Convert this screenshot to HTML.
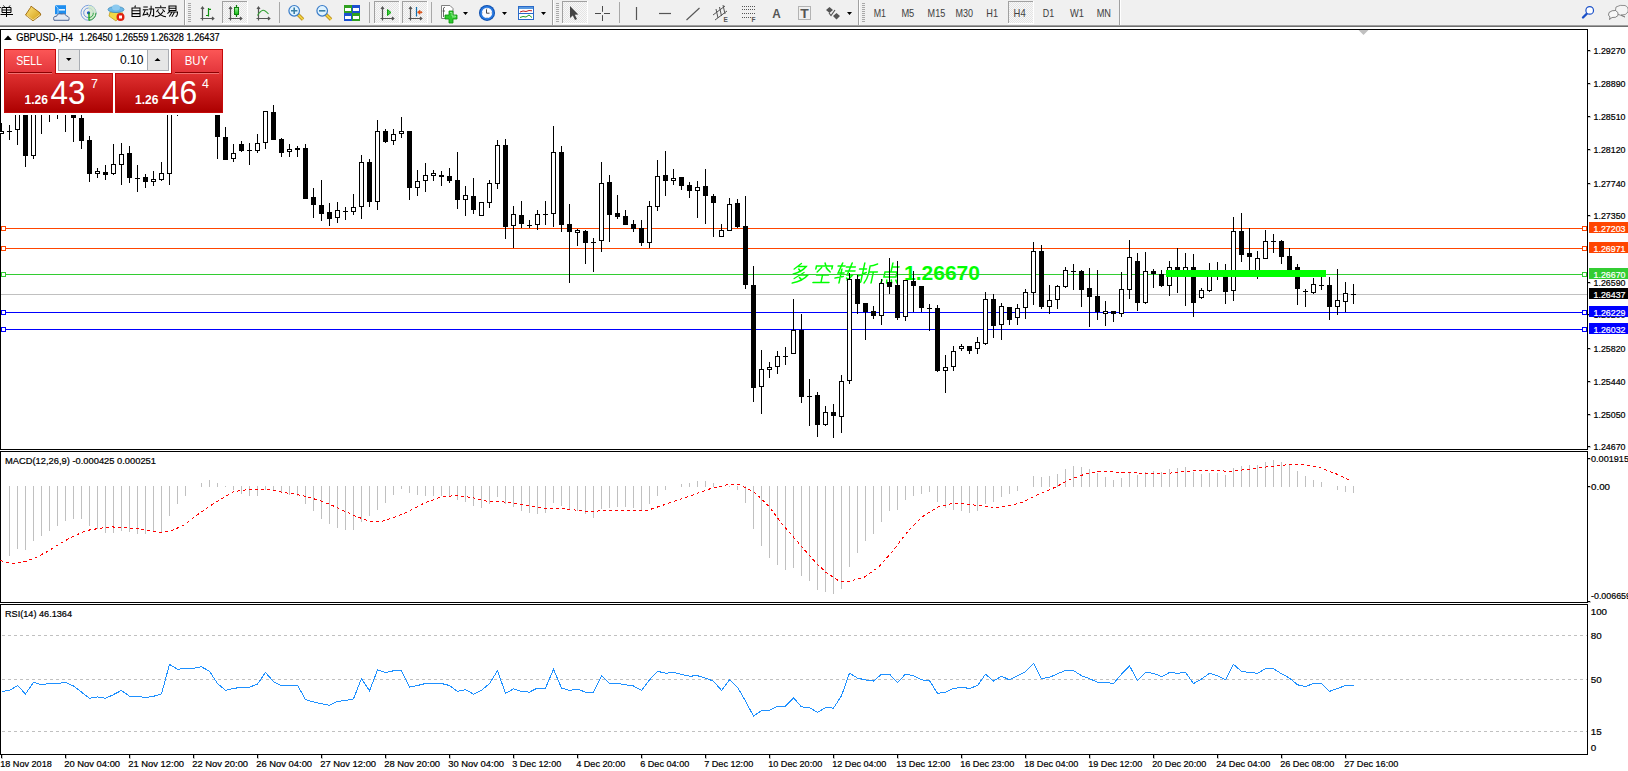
<!DOCTYPE html><html><head><meta charset="utf-8"><style>html,body{margin:0;padding:0;background:#fff;overflow:hidden;width:1628px;height:771px}svg{display:block}text{font-family:"Liberation Sans",sans-serif}.tk text,text.tk{stroke:currentColor}</style></head><body>
<svg width="1628" height="771" viewBox="0 0 1628 771">
<rect x="0" y="0" width="1628" height="25" fill="#f0f0f0"/>
<rect x="0" y="25" width="1628" height="1" fill="#a0a0a0"/><rect x="0" y="26" width="1628" height="1" fill="#6e6e6e"/>
<g id="toolbar"><defs>
<pattern id="chk" width="2" height="2" patternUnits="userSpaceOnUse"><rect width="2" height="2" fill="#f8f8f8"/><rect width="1" height="1" fill="#e4e4e4"/><rect x="1" y="1" width="1" height="1" fill="#e4e4e4"/></pattern>
<linearGradient id="ggold" x1="0" y1="0" x2="1" y2="1"><stop offset="0" stop-color="#ffe680"/><stop offset="1" stop-color="#d09a10"/></linearGradient>
<linearGradient id="ggreen" x1="0" y1="0" x2="0" y2="1"><stop offset="0" stop-color="#9ff09f"/><stop offset="1" stop-color="#10c010"/></linearGradient>
</defs>
<!-- partial char 単 -->
<g stroke="#000" stroke-width="1" fill="none">
<path d="M0 7.5 H0.8 M3.5 5.5 L4.5 6.8 M10 5.5 L9 6.8 M2 7.5 H11 V12.5 H2 Z M2 10 H11 M0.5 14.5 H13 M6.5 7.5 V17"/>
</g>
<!-- gold book -->
<path d="M25.5 15 L30.5 7.5 L31 6.2 L40 12.8 L40.8 15 L33 20.8 Z" fill="url(#ggold)" stroke="#9a6408" stroke-width="0.9" stroke-linejoin="round"/>
<path d="M26.8 15.5 L33 19.8 M33 20 L40 14.5" stroke="#f4e0a0" stroke-width="0.8" fill="none"/>
<!-- cloud doc -->
<rect x="55" y="5.2" width="11" height="9" fill="#1e8ef0"/>
<path d="M55 5.2 L58 8 V14" stroke="#bfe4ff" stroke-width="0.8" fill="none"/>
<rect x="59" y="9" width="6" height="1.6" fill="#e0f2ff"/>
<path d="M54 20.3 Q52.5 16 56.5 16.3 Q57.5 13 61.5 14 Q65 12.5 66.5 16 Q70 16.5 68.8 20.3 Z" fill="#e4e9f2" stroke="#40588a" stroke-width="0.9"/>
<!-- signal -->
<g fill="none" stroke-width="1">
<circle cx="88.5" cy="12.8" r="7.5" stroke="#7aa0e0"/>
<circle cx="88.5" cy="12.8" r="4.8" stroke="#6a98d8"/>
<path d="M88.5 5.3 A7.5 7.5 0 0 1 89 20.3 Z" fill="#cfe8c8" stroke="none" opacity="0.8"/>
<path d="M96 12.8 A7.5 7.5 0 0 1 89 20.3" stroke="#2a9a3a"/>
<path d="M93.3 12.8 A4.8 4.8 0 0 1 89 17.6" stroke="#3aaa4a"/>
</g>
<circle cx="88.5" cy="12.8" r="1.6" fill="#1e50d0"/>
<path d="M89 12.5 V20.5" stroke="#18a018" stroke-width="1.3" fill="none"/>
<!-- auto trading -->
<path d="M109 16 L116 21 L123 13 L110 12 Z" fill="#f0d848" stroke="#c0a020" stroke-width="0.8"/>
<ellipse cx="116" cy="9.5" rx="8" ry="3" fill="#6ab8e8" stroke="#3a88b8" stroke-width="0.8"/>
<ellipse cx="116" cy="7.5" rx="4" ry="3" fill="#8ccaf0"/>
<circle cx="120.5" cy="17" r="4" fill="#e02010"/>
<rect x="119" y="15.5" width="3" height="3" fill="#fff"/>
<!-- 自动交易 -->
<g stroke="#000" stroke-width="1.05" fill="none" transform="translate(130.5,5.5)">
<path d="M5 0 L4.3 1.8 M1.5 2.5 H9.5 V11 H1.5 Z M1.5 5.3 H9.5 M1.5 8.1 H9.5"/>
<g transform="translate(12.3,0)"><path d="M0.5 1.5 H5 M0 4.3 H5.5 M2.5 4.3 L0.3 9.5 L5 8.5 M4 6.8 L5.5 9.8 M6 3.5 H10.8 V10.5 L9 10 M8.3 0.3 V3.5 Q8 9 5.8 11.3"/></g>
<g transform="translate(24.5,0)"><path d="M5.5 0 L6 1.5 M0 2.3 H11 M3.5 3.8 L1.5 6.3 M7.5 3.8 L9.8 6.3 M3 6 Q5.5 10.5 11 11.3 M8 6 Q5.5 10.5 0 11.3"/></g>
<g transform="translate(36.5,0)"><path d="M2 0.5 H9 V5 H2 Z M2 2.8 H9 M3 5 L0.5 8.3 M1.8 6.5 H10.5 Q10.5 11 8.5 11 M4.8 7 L2.3 11 M7.3 7 L4.8 11.3"/></g>
</g>
<!-- separators & grips -->
<g shape-rendering="crispEdges">
<rect x="184" y="0" width="1" height="25" fill="#a0a0a0"/><rect x="185" y="0" width="1" height="25" fill="#fff"/>
<rect x="552" y="0" width="1" height="25" fill="#a0a0a0"/><rect x="553" y="0" width="1" height="25" fill="#fff"/>
<rect x="858" y="0" width="1" height="25" fill="#a0a0a0"/><rect x="859" y="0" width="1" height="25" fill="#fff"/>
<rect x="1119" y="0" width="1" height="25" fill="#a0a0a0"/><rect x="1120" y="0" width="1" height="25" fill="#fff"/>
<rect x="279" y="2" width="1" height="21" fill="#a8a8a8"/>
<rect x="369" y="2" width="1" height="21" fill="#a8a8a8"/>
<rect x="431" y="2" width="1" height="21" fill="#a8a8a8"/>
<rect x="619" y="2" width="1" height="21" fill="#a8a8a8"/>
</g>
<g fill="#a8a8a8" shape-rendering="crispEdges">
<rect x="188" y="3" width="3" height="1"/><rect x="188" y="5" width="3" height="1"/><rect x="188" y="7" width="3" height="1"/><rect x="188" y="9" width="3" height="1"/><rect x="188" y="11" width="3" height="1"/><rect x="188" y="13" width="3" height="1"/><rect x="188" y="15" width="3" height="1"/><rect x="188" y="17" width="3" height="1"/><rect x="188" y="19" width="3" height="1"/><rect x="188" y="21" width="3" height="1"/>
<rect x="556" y="3" width="3" height="1"/><rect x="556" y="5" width="3" height="1"/><rect x="556" y="7" width="3" height="1"/><rect x="556" y="9" width="3" height="1"/><rect x="556" y="11" width="3" height="1"/><rect x="556" y="13" width="3" height="1"/><rect x="556" y="15" width="3" height="1"/><rect x="556" y="17" width="3" height="1"/><rect x="556" y="19" width="3" height="1"/><rect x="556" y="21" width="3" height="1"/>
<rect x="862" y="3" width="3" height="1"/><rect x="862" y="5" width="3" height="1"/><rect x="862" y="7" width="3" height="1"/><rect x="862" y="9" width="3" height="1"/><rect x="862" y="11" width="3" height="1"/><rect x="862" y="13" width="3" height="1"/><rect x="862" y="15" width="3" height="1"/><rect x="862" y="17" width="3" height="1"/><rect x="862" y="19" width="3" height="1"/><rect x="862" y="21" width="3" height="1"/>
</g>
<!-- selected buttons -->
<g shape-rendering="crispEdges">
<rect x="222" y="1" width="25" height="22" fill="url(#chk)"/><rect x="222" y="1" width="25" height="1" fill="#a0a0a0"/><rect x="222" y="1" width="1" height="22" fill="#a0a0a0"/><rect x="222" y="23" width="26" height="1" fill="#fff"/><rect x="247" y="1" width="1" height="23" fill="#fff"/>
<rect x="374" y="1" width="25" height="22" fill="url(#chk)"/><rect x="374" y="1" width="25" height="1" fill="#a0a0a0"/><rect x="374" y="1" width="1" height="22" fill="#a0a0a0"/><rect x="374" y="23" width="26" height="1" fill="#fff"/><rect x="399" y="1" width="1" height="23" fill="#fff"/>
<rect x="402" y="1" width="25" height="22" fill="url(#chk)"/><rect x="402" y="1" width="25" height="1" fill="#a0a0a0"/><rect x="402" y="1" width="1" height="22" fill="#a0a0a0"/><rect x="402" y="23" width="26" height="1" fill="#fff"/><rect x="427" y="1" width="1" height="23" fill="#fff"/>
<rect x="562" y="1" width="25" height="22" fill="url(#chk)"/><rect x="562" y="1" width="25" height="1" fill="#a0a0a0"/><rect x="562" y="1" width="1" height="22" fill="#a0a0a0"/><rect x="562" y="23" width="26" height="1" fill="#fff"/><rect x="587" y="1" width="1" height="23" fill="#fff"/>
<rect x="1008" y="1" width="25" height="22" fill="url(#chk)"/><rect x="1008" y="1" width="25" height="1" fill="#a0a0a0"/><rect x="1008" y="1" width="1" height="22" fill="#a0a0a0"/><rect x="1008" y="23" width="26" height="1" fill="#fff"/><rect x="1033" y="1" width="1" height="23" fill="#fff"/>
</g>
<!-- axes icons -->
<g stroke="#555" stroke-width="1.2" fill="none">
<path d="M202.5 7.5 V20.5 M200.5 18.5 H213.5 M201 9 L202.5 7 L204 9 M212 17 L213.8 18.5 L212 20"/>
<path d="M230.5 7.5 V20.5 M228.5 18.5 H241.5 M229 9 L230.5 7 L232 9 M240 17 L241.8 18.5 L240 20"/>
<path d="M258.5 7.5 V20.5 M256.5 18.5 H269.5 M257 9 L258.5 7 L260 9 M268 17 L269.8 18.5 L268 20"/>
<path d="M382.5 7.5 V20.5 M380.5 18.5 H393.5 M381 9 L382.5 7 L384 9 M392 17 L393.8 18.5 L392 20"/>
<path d="M410.5 7.5 V20.5 M408.5 18.5 H421.5 M409 9 L410.5 7 L412 9 M420 17 L421.8 18.5 L420 20"/>
</g>
<path d="M208.5 8 V16.5 M208.5 9.3 H211 M206 15.5 H208.5" stroke="#109010" stroke-width="1.2" fill="none"/>
<rect x="234.5" y="7.5" width="4" height="7" fill="url(#ggreen)" stroke="#108010"/><path d="M236.5 5 V7.5 M236.5 14.5 V17" stroke="#108010" stroke-width="1.2"/>
<path d="M257.5 15.5 Q260 11 263 10.2 Q265 10 268.5 14" stroke="#30a030" stroke-width="1.1" fill="none"/>
<path d="M387.5 9.5 L391 12.5 L387.5 15.5 Z" fill="#40d040" stroke="#10a010"/>
<path d="M416.5 7 V16.5" stroke="#1070b0" stroke-width="1.2"/>
<path d="M417.5 12.3 L420 10.3 V11.8 H422 V12.8 H420 V14.3 Z" fill="#f05010" stroke="#d04000" stroke-width="0.6"/>
<!-- zoom icons -->
<g>
<path d="M297.5 14 L303 19.5" stroke="#b08010" stroke-width="3.4"/><path d="M297.5 14 L303 19.5" stroke="#f0d040" stroke-width="2"/>
<circle cx="294.2" cy="10.8" r="5.3" fill="#dff3ff" stroke="#3a7cc8" stroke-width="1.2"/>
<path d="M291 10.8 H297.4 M294.2 7.6 V14" stroke="#3a80a8" stroke-width="1.6"/>
<path d="M325.5 14 L331 19.5" stroke="#b08010" stroke-width="3.4"/><path d="M325.5 14 L331 19.5" stroke="#f0d040" stroke-width="2"/>
<circle cx="322.2" cy="10.8" r="5.3" fill="#dff3ff" stroke="#3a7cc8" stroke-width="1.2"/>
<path d="M319 10.8 H325.4" stroke="#3a80a8" stroke-width="1.6"/>
</g>
<!-- tile -->
<g shape-rendering="crispEdges">
<rect x="344" y="5" width="8" height="8" fill="#30a020"/><rect x="352" y="5" width="8" height="8" fill="#1c50d0"/>
<rect x="344" y="13" width="8" height="8" fill="#1c50d0"/><rect x="352" y="13" width="8" height="8" fill="#30a020"/>
<rect x="345" y="8" width="6" height="3" fill="#fff"/><rect x="353" y="8" width="6" height="3" fill="#fff"/>
<rect x="345" y="16" width="6" height="3" fill="#fff"/><rect x="353" y="16" width="6" height="3" fill="#fff"/>
</g>
<!-- new doc -->
<path d="M441.5 5.5 H450 L453 8.5 V18.5 H441.5 Z" fill="#fff" stroke="#808080"/>
<path d="M443.5 8 Q444 7 445 7.5 M443.5 8 V17 M442.5 11 H445" stroke="#444" stroke-width="0.8" fill="none"/>
<path d="M449 11 H453 V15 H457 V19 H453 V23 H449 V19 H445 V15 H449 Z" fill="#2ec82e" stroke="#0a900a" stroke-width="0.8"/>
<path d="M450 12.5 H452 V16 H455.5 V17 H452" stroke="#9af09a" stroke-width="0.8" fill="none"/>
<!-- clock -->
<circle cx="487" cy="12.9" r="8" fill="#0d4fb0"/><circle cx="487" cy="12.9" r="7" fill="#2a7ae0"/><circle cx="487" cy="12.9" r="5.2" fill="#fbfbff"/>
<path d="M486.5 9.3 V13.2 H489.5" stroke="#333" stroke-width="0.9" fill="none"/>
<path d="M487 8 V8.8 M487 17 V17.8 M482.2 12.9 H483 M491 12.9 H491.8" stroke="#777" stroke-width="0.6"/>
<!-- templates -->
<rect x="518.5" y="6.5" width="15" height="13" fill="#fff" stroke="#2a6ac8"/>
<rect x="519" y="7" width="14" height="2" fill="#5a9ae0"/><rect x="519" y="13" width="14" height="1" fill="#2a6ac8"/>
<path d="M520 12 L523 11 L526 11.5 L529 10.5 L532 10.8" stroke="#c02020" stroke-width="1" fill="none"/>
<path d="M520 17.5 L523 16.5 L526 17 L529 15 L532 17.5" stroke="#20a020" stroke-width="1" fill="none"/>
<!-- dropdowns -->
<path d="M463 12 H468 L465.5 15 Z M502 12 H507 L504.5 15 Z M541 12 H546 L543.5 15 Z M847 12 H852 L849.5 15 Z" fill="#000"/>
<!-- cursor & drawing -->
<path d="M570 6 V18 L572.8 15.5 L575 20 L577 19 L574.8 14.8 L578.3 14.5 Z" fill="#444"/>
<path d="M595 13.5 H601 M604 13.5 H610 M602.5 6 V11.8 M602.5 15.2 V21" stroke="#4a4a4a" stroke-width="1"/>
<path d="M636.5 7 V20" stroke="#555" stroke-width="1.2"/>
<path d="M659 13.5 H671" stroke="#555" stroke-width="1.2"/>
<path d="M686.5 20 L699.5 8" stroke="#555" stroke-width="1.1"/>
<path d="M713 15 L725 6 M715 20 L727 11 M716 9 L718 18 M719.5 7 L721.5 16 M723 5 L725 14" stroke="#555" stroke-width="1" fill="none"/>
<text x="723.5" y="21.8" font-size="6.5" font-weight="bold" fill="#555">E</text>
<g fill="#555" shape-rendering="crispEdges">
<path d="M742 6.5 H755 M742 9.8 H755 M742 13.3 H755 M742 17.7 H751" stroke="#555" stroke-width="1" stroke-dasharray="1,1" fill="none"/>
</g>
<text x="751.5" y="22" font-size="6.5" font-weight="bold" fill="#555">F</text>
<text x="772.3" y="18.3" font-size="13" font-weight="bold" fill="#555" textLength="8.5" lengthAdjust="spacingAndGlyphs">A</text>
<rect x="798.5" y="6.5" width="12" height="13" fill="none" stroke="#777" stroke-dasharray="1,1"/>
<text x="800.3" y="17.8" font-size="12" font-weight="bold" fill="#555" textLength="8.5" lengthAdjust="spacingAndGlyphs">T</text>
<path d="M826 10 L829.5 7 L833 10 L829.5 13 Z M833 16 L836.5 13 L840 16 L836.5 19.5 Z" fill="#555"/>
<path d="M829 13 L831 15.5 L835 10" stroke="#555" stroke-width="1.2" fill="none"/>
<!-- timeframes -->
<g font-size="10.5" fill="#404040">
<text x="873.7" y="17" textLength="12.3" lengthAdjust="spacingAndGlyphs">M1</text>
<text x="901.4" y="17" textLength="12.9" lengthAdjust="spacingAndGlyphs">M5</text>
<text x="927.6" y="17" textLength="17.6" lengthAdjust="spacingAndGlyphs">M15</text>
<text x="955.6" y="17" textLength="17.5" lengthAdjust="spacingAndGlyphs">M30</text>
<text x="986.3" y="17" textLength="11.7" lengthAdjust="spacingAndGlyphs">H1</text>
<text x="1013.6" y="17" textLength="12.1" lengthAdjust="spacingAndGlyphs">H4</text>
<text x="1042.8" y="17" textLength="11.4" lengthAdjust="spacingAndGlyphs">D1</text>
<text x="1070" y="17" textLength="14" lengthAdjust="spacingAndGlyphs">W1</text>
<text x="1096.7" y="17" textLength="14.3" lengthAdjust="spacingAndGlyphs">MN</text>
</g>
<!-- search & chat -->
<path d="M1583 17.5 L1587 13.5" stroke="#1a50c8" stroke-width="2.4" stroke-linecap="round"/>
<circle cx="1589.7" cy="10.4" r="3.8" fill="#fff" stroke="#1a50c8" stroke-width="1.2"/>
<path d="M1616 7 Q1620 4.5 1625 5.5 Q1629 7 1628 12 Q1626 15.5 1621 15 L1625 17 L1620 15 Q1615 14 1615.5 10 Z" fill="#f4f4f4" stroke="#777" stroke-width="0.8"/>
<path d="M1609 12.5 Q1612 10 1615.5 10.5 Q1619 12 1618 15.5 Q1616 18 1612 17.5 L1609.5 19.5 L1610 17 Q1607.5 15.5 1609 12.5 Z" fill="#f8f8f8" stroke="#666" stroke-width="0.8"/>
</g>
<g shape-rendering="crispEdges">
<rect x="0" y="29" width="1588" height="1" fill="#000"/>
<rect x="0" y="29" width="1" height="421" fill="#000"/>
<rect x="0" y="449" width="1588" height="1" fill="#000"/>
<rect x="1587" y="29" width="1" height="421" fill="#000"/>
<rect x="0" y="451" width="1588" height="1" fill="#000"/>
<rect x="0" y="451" width="1" height="152" fill="#000"/>
<rect x="0" y="602" width="1588" height="1" fill="#000"/>
<rect x="1587" y="451" width="1" height="152" fill="#000"/>
<rect x="0" y="604" width="1588" height="1" fill="#000"/>
<rect x="0" y="604" width="1" height="151" fill="#000"/>
<rect x="0" y="754" width="1588" height="1" fill="#000"/>
<rect x="1587" y="604" width="1" height="151" fill="#000"/>
</g>
<g id="greentext"><g stroke="#00ff00" stroke-width="1.5" fill="none" stroke-linecap="round">
<g transform="translate(792.5,263) skewX(-12)"><path d="M9 0.5 L3 6 M6 3.5 H14.5 Q11 9 3 11 M7.5 6 L10 8.5 M13.5 9.5 L5 15.5 M9 12 H18 Q14 18 4 20 M10 14.5 L13 17"/></g>
<g transform="translate(815.1,263) skewX(-12)"><path d="M10 0 L11 2 M2 6 V3 H18 V6 M7.5 4.5 L4 9 M12 4.5 Q14 7 17 9 M4 12 H16 M10 12 V19 M2 19.5 H18"/></g>
<g transform="translate(837.7,263) skewX(-12)"><path d="M1 3 H8 M5 0 L2.5 10 H8.5 M5.5 6 V20 M0.5 15 L8.5 13.5 M9.5 4 H18.5 M14.5 0 L12 12 H17.5 Q15 16 13 17 M9.5 8 H19 M12 15 L16 19"/></g>
<g transform="translate(860.3,263) skewX(-12)"><path d="M0.5 6 H7.5 M4.5 0 V19 Q4 20 2.5 19 M0.5 13 L8 9.5 M17.5 1 Q13 3 10.5 3 V11 Q10 17 8 20 M10.5 9 H19 M15 9 V20"/></g>
<g transform="translate(882.9,263) skewX(-12)"><path d="M10 0 V9 M10 4 H17 M4 9 H16 V14 H4 Z M3 17 L2 20 M7.5 17 L8 20 M12 17 L13 20 M16.5 17 L18.5 20"/></g>
</g>
<text x="904" y="279.5" font-size="20.5" font-weight="bold" fill="#00ff00" textLength="76" lengthAdjust="spacingAndGlyphs">1.26670</text>
</g>
<g shape-rendering="crispEdges">
<rect x="1" y="228" width="1586" height="1" fill="#ff4500"/>
<rect x="1.5" y="226.5" width="4" height="4" fill="#fff" stroke="#ff4500" stroke-width="1"/>
<rect x="1582.5" y="226.5" width="4" height="4" fill="#fff" stroke="#ff4500" stroke-width="1"/>
<rect x="1" y="248" width="1586" height="1" fill="#ff4500"/>
<rect x="1.5" y="246.5" width="4" height="4" fill="#fff" stroke="#ff4500" stroke-width="1"/>
<rect x="1582.5" y="246.5" width="4" height="4" fill="#fff" stroke="#ff4500" stroke-width="1"/>
<rect x="1" y="274" width="1586" height="1" fill="#32cd32"/>
<rect x="1.5" y="272.5" width="4" height="4" fill="#fff" stroke="#32cd32" stroke-width="1"/>
<rect x="1582.5" y="272.5" width="4" height="4" fill="#fff" stroke="#32cd32" stroke-width="1"/>
<rect x="1" y="294" width="1586" height="1" fill="#c0c0c0"/>
<rect x="1" y="312" width="1586" height="1" fill="#0000ff"/>
<rect x="1.5" y="310.5" width="4" height="4" fill="#fff" stroke="#0000ff" stroke-width="1"/>
<rect x="1582.5" y="310.5" width="4" height="4" fill="#fff" stroke="#0000ff" stroke-width="1"/>
<rect x="1" y="329" width="1586" height="1" fill="#0000ff"/>
<rect x="1.5" y="327.5" width="4" height="4" fill="#fff" stroke="#0000ff" stroke-width="1"/>
<rect x="1582.5" y="327.5" width="4" height="4" fill="#fff" stroke="#0000ff" stroke-width="1"/>
</g>
<g shape-rendering="crispEdges" fill="#000">
<rect x="1" y="123" width="1" height="11"/>
<rect x="-1" y="131" width="5" height="3"/><rect x="0" y="132" width="3" height="1" fill="#fff"/>
<rect x="9" y="125" width="1" height="15"/>
<rect x="7" y="131" width="5" height="1"/>
<rect x="17" y="100" width="1" height="45"/>
<rect x="15" y="100" width="5" height="30"/><rect x="16" y="101" width="3" height="28" fill="#fff"/>
<rect x="25" y="100" width="1" height="67"/>
<rect x="23" y="100" width="5" height="56"/>
<rect x="33" y="100" width="1" height="59"/>
<rect x="31" y="100" width="5" height="56"/><rect x="32" y="101" width="3" height="54" fill="#fff"/>
<rect x="41" y="90" width="1" height="44"/>
<rect x="39" y="90" width="5" height="20"/>
<rect x="49" y="90" width="1" height="32"/>
<rect x="47" y="90" width="5" height="18"/>
<rect x="57" y="90" width="1" height="29"/>
<rect x="55" y="90" width="5" height="18"/>
<rect x="65" y="90" width="1" height="42"/>
<rect x="63" y="90" width="5" height="18"/>
<rect x="73" y="90" width="1" height="52"/>
<rect x="71" y="100" width="5" height="18"/>
<rect x="81" y="115" width="1" height="34"/>
<rect x="79" y="118" width="5" height="23"/>
<rect x="89" y="136" width="1" height="46"/>
<rect x="87" y="140" width="5" height="34"/>
<rect x="97" y="168" width="1" height="10"/>
<rect x="95" y="171" width="5" height="3"/><rect x="96" y="172" width="3" height="1" fill="#fff"/>
<rect x="105" y="165" width="1" height="15"/>
<rect x="103" y="172" width="5" height="3"/>
<rect x="113" y="144" width="1" height="31"/>
<rect x="111" y="164" width="5" height="10"/><rect x="112" y="165" width="3" height="8" fill="#fff"/>
<rect x="121" y="143" width="1" height="42"/>
<rect x="119" y="154" width="5" height="11"/><rect x="120" y="155" width="3" height="9" fill="#fff"/>
<rect x="129" y="146" width="1" height="37"/>
<rect x="127" y="153" width="5" height="25"/>
<rect x="137" y="165" width="1" height="27"/>
<rect x="135" y="178" width="5" height="1"/>
<rect x="145" y="174" width="1" height="14"/>
<rect x="143" y="177" width="5" height="5"/>
<rect x="153" y="171" width="1" height="15"/>
<rect x="151" y="179" width="5" height="3"/><rect x="152" y="180" width="3" height="1" fill="#fff"/>
<rect x="161" y="162" width="1" height="19"/>
<rect x="159" y="173" width="5" height="7"/><rect x="160" y="174" width="3" height="5" fill="#fff"/>
<rect x="169" y="100" width="1" height="85"/>
<rect x="167" y="100" width="5" height="74"/><rect x="168" y="101" width="3" height="72" fill="#fff"/>
<rect x="177" y="90" width="1" height="26"/>
<rect x="175" y="90" width="5" height="18"/>
<rect x="217" y="100" width="1" height="59"/>
<rect x="215" y="100" width="5" height="37"/>
<rect x="225" y="127" width="1" height="33"/>
<rect x="223" y="137" width="5" height="23"/>
<rect x="233" y="144" width="1" height="18"/>
<rect x="231" y="153" width="5" height="6"/><rect x="232" y="154" width="3" height="4" fill="#fff"/>
<rect x="241" y="141" width="1" height="11"/>
<rect x="239" y="144" width="5" height="7"/>
<rect x="249" y="143" width="1" height="22"/>
<rect x="247" y="150" width="5" height="1"/>
<rect x="257" y="134" width="1" height="19"/>
<rect x="255" y="143" width="5" height="8"/><rect x="256" y="144" width="3" height="6" fill="#fff"/>
<rect x="265" y="111" width="1" height="38"/>
<rect x="263" y="111" width="5" height="32"/><rect x="264" y="112" width="3" height="30" fill="#fff"/>
<rect x="273" y="105" width="1" height="35"/>
<rect x="271" y="112" width="5" height="28"/>
<rect x="281" y="138" width="1" height="19"/>
<rect x="279" y="139" width="5" height="14"/>
<rect x="289" y="144" width="1" height="13"/>
<rect x="287" y="149" width="5" height="3"/><rect x="288" y="150" width="3" height="1" fill="#fff"/>
<rect x="297" y="146" width="1" height="11"/>
<rect x="295" y="148" width="5" height="2"/>
<rect x="305" y="144" width="1" height="55"/>
<rect x="303" y="148" width="5" height="51"/>
<rect x="313" y="188" width="1" height="30"/>
<rect x="311" y="197" width="5" height="8"/>
<rect x="321" y="180" width="1" height="41"/>
<rect x="319" y="205" width="5" height="9"/>
<rect x="329" y="203" width="1" height="23"/>
<rect x="327" y="212" width="5" height="7"/>
<rect x="337" y="202" width="1" height="21"/>
<rect x="335" y="210" width="5" height="8"/><rect x="336" y="211" width="3" height="6" fill="#fff"/>
<rect x="345" y="207" width="1" height="13"/>
<rect x="343" y="211" width="5" height="1"/>
<rect x="353" y="194" width="1" height="21"/>
<rect x="351" y="207" width="5" height="5"/><rect x="352" y="208" width="3" height="3" fill="#fff"/>
<rect x="361" y="155" width="1" height="64"/>
<rect x="359" y="162" width="5" height="45"/><rect x="360" y="163" width="3" height="43" fill="#fff"/>
<rect x="369" y="159" width="1" height="48"/>
<rect x="367" y="162" width="5" height="40"/>
<rect x="377" y="120" width="1" height="90"/>
<rect x="375" y="131" width="5" height="71"/><rect x="376" y="132" width="3" height="69" fill="#fff"/>
<rect x="385" y="129" width="1" height="14"/>
<rect x="383" y="131" width="5" height="11"/>
<rect x="393" y="129" width="1" height="16"/>
<rect x="391" y="134" width="5" height="7"/><rect x="392" y="135" width="3" height="5" fill="#fff"/>
<rect x="401" y="117" width="1" height="21"/>
<rect x="399" y="131" width="5" height="3"/><rect x="400" y="132" width="3" height="1" fill="#fff"/>
<rect x="409" y="131" width="1" height="69"/>
<rect x="407" y="131" width="5" height="57"/>
<rect x="417" y="170" width="1" height="26"/>
<rect x="415" y="181" width="5" height="7"/><rect x="416" y="182" width="3" height="5" fill="#fff"/>
<rect x="425" y="163" width="1" height="29"/>
<rect x="423" y="175" width="5" height="6"/><rect x="424" y="176" width="3" height="4" fill="#fff"/>
<rect x="433" y="170" width="1" height="11"/>
<rect x="431" y="173" width="5" height="3"/><rect x="432" y="174" width="3" height="1" fill="#fff"/>
<rect x="441" y="171" width="1" height="15"/>
<rect x="439" y="175" width="5" height="2"/>
<rect x="449" y="168" width="1" height="15"/>
<rect x="447" y="176" width="5" height="5"/>
<rect x="457" y="152" width="1" height="57"/>
<rect x="455" y="180" width="5" height="20"/>
<rect x="465" y="186" width="1" height="30"/>
<rect x="463" y="195" width="5" height="5"/><rect x="464" y="196" width="3" height="3" fill="#fff"/>
<rect x="473" y="178" width="1" height="36"/>
<rect x="471" y="196" width="5" height="14"/>
<rect x="481" y="202" width="1" height="14"/>
<rect x="479" y="202" width="5" height="14"/><rect x="480" y="203" width="3" height="12" fill="#fff"/>
<rect x="489" y="180" width="1" height="28"/>
<rect x="487" y="183" width="5" height="20"/><rect x="488" y="184" width="3" height="18" fill="#fff"/>
<rect x="497" y="140" width="1" height="49"/>
<rect x="495" y="145" width="5" height="39"/><rect x="496" y="146" width="3" height="37" fill="#fff"/>
<rect x="505" y="139" width="1" height="100"/>
<rect x="503" y="145" width="5" height="82"/>
<rect x="513" y="206" width="1" height="42"/>
<rect x="511" y="214" width="5" height="12"/><rect x="512" y="215" width="3" height="10" fill="#fff"/>
<rect x="521" y="201" width="1" height="27"/>
<rect x="519" y="215" width="5" height="9"/>
<rect x="529" y="220" width="1" height="8"/>
<rect x="527" y="225" width="5" height="1"/>
<rect x="537" y="210" width="1" height="20"/>
<rect x="535" y="214" width="5" height="11"/><rect x="536" y="215" width="3" height="9" fill="#fff"/>
<rect x="545" y="201" width="1" height="24"/>
<rect x="543" y="214" width="5" height="1"/>
<rect x="553" y="126" width="1" height="101"/>
<rect x="551" y="152" width="5" height="62"/><rect x="552" y="153" width="3" height="60" fill="#fff"/>
<rect x="561" y="146" width="1" height="86"/>
<rect x="559" y="152" width="5" height="73"/>
<rect x="569" y="204" width="1" height="79"/>
<rect x="567" y="224" width="5" height="8"/>
<rect x="577" y="229" width="1" height="17"/>
<rect x="575" y="230" width="5" height="3"/><rect x="576" y="231" width="3" height="1" fill="#fff"/>
<rect x="585" y="230" width="1" height="34"/>
<rect x="583" y="231" width="5" height="12"/>
<rect x="593" y="238" width="1" height="34"/>
<rect x="591" y="242" width="5" height="1"/>
<rect x="601" y="162" width="1" height="90"/>
<rect x="599" y="183" width="5" height="58"/><rect x="600" y="184" width="3" height="56" fill="#fff"/>
<rect x="609" y="175" width="1" height="67"/>
<rect x="607" y="182" width="5" height="33"/>
<rect x="617" y="195" width="1" height="24"/>
<rect x="615" y="213" width="5" height="4"/>
<rect x="625" y="210" width="1" height="15"/>
<rect x="623" y="216" width="5" height="9"/>
<rect x="633" y="220" width="1" height="12"/>
<rect x="631" y="224" width="5" height="5"/>
<rect x="641" y="220" width="1" height="26"/>
<rect x="639" y="228" width="5" height="15"/>
<rect x="649" y="201" width="1" height="47"/>
<rect x="647" y="206" width="5" height="37"/><rect x="648" y="207" width="3" height="35" fill="#fff"/>
<rect x="657" y="160" width="1" height="51"/>
<rect x="655" y="176" width="5" height="31"/><rect x="656" y="177" width="3" height="29" fill="#fff"/>
<rect x="665" y="151" width="1" height="45"/>
<rect x="663" y="175" width="5" height="6"/>
<rect x="673" y="169" width="1" height="16"/>
<rect x="671" y="178" width="5" height="3"/><rect x="672" y="179" width="3" height="1" fill="#fff"/>
<rect x="681" y="177" width="1" height="13"/>
<rect x="679" y="177" width="5" height="9"/>
<rect x="689" y="182" width="1" height="16"/>
<rect x="687" y="185" width="5" height="6"/>
<rect x="697" y="181" width="1" height="37"/>
<rect x="695" y="187" width="5" height="4"/><rect x="696" y="188" width="3" height="2" fill="#fff"/>
<rect x="705" y="169" width="1" height="55"/>
<rect x="703" y="186" width="5" height="10"/>
<rect x="713" y="194" width="1" height="43"/>
<rect x="711" y="196" width="5" height="7"/>
<rect x="721" y="224" width="1" height="13"/>
<rect x="719" y="230" width="5" height="7"/><rect x="720" y="231" width="3" height="5" fill="#fff"/>
<rect x="729" y="198" width="1" height="33"/>
<rect x="727" y="204" width="5" height="27"/><rect x="728" y="205" width="3" height="25" fill="#fff"/>
<rect x="737" y="199" width="1" height="29"/>
<rect x="735" y="203" width="5" height="24"/>
<rect x="745" y="196" width="1" height="93"/>
<rect x="743" y="226" width="5" height="59"/>
<rect x="753" y="266" width="1" height="136"/>
<rect x="751" y="285" width="5" height="103"/>
<rect x="761" y="350" width="1" height="64"/>
<rect x="759" y="369" width="5" height="18"/><rect x="760" y="370" width="3" height="16" fill="#fff"/>
<rect x="769" y="362" width="1" height="16"/>
<rect x="767" y="367" width="5" height="3"/><rect x="768" y="368" width="3" height="1" fill="#fff"/>
<rect x="777" y="351" width="1" height="23"/>
<rect x="775" y="356" width="5" height="11"/><rect x="776" y="357" width="3" height="9" fill="#fff"/>
<rect x="785" y="347" width="1" height="18"/>
<rect x="783" y="356" width="5" height="1"/>
<rect x="793" y="299" width="1" height="55"/>
<rect x="791" y="330" width="5" height="24"/><rect x="792" y="331" width="3" height="22" fill="#fff"/>
<rect x="801" y="314" width="1" height="89"/>
<rect x="799" y="330" width="5" height="67"/>
<rect x="809" y="379" width="1" height="47"/>
<rect x="807" y="396" width="5" height="1"/>
<rect x="817" y="392" width="1" height="45"/>
<rect x="815" y="395" width="5" height="30"/>
<rect x="825" y="406" width="1" height="20"/>
<rect x="823" y="412" width="5" height="13"/><rect x="824" y="413" width="3" height="11" fill="#fff"/>
<rect x="833" y="404" width="1" height="34"/>
<rect x="831" y="412" width="5" height="4"/>
<rect x="841" y="375" width="1" height="58"/>
<rect x="839" y="381" width="5" height="36"/><rect x="840" y="382" width="3" height="34" fill="#fff"/>
<rect x="849" y="273" width="1" height="111"/>
<rect x="847" y="279" width="5" height="102"/><rect x="848" y="280" width="3" height="100" fill="#fff"/>
<rect x="857" y="275" width="1" height="39"/>
<rect x="855" y="279" width="5" height="25"/>
<rect x="865" y="303" width="1" height="37"/>
<rect x="863" y="303" width="5" height="9"/>
<rect x="873" y="306" width="1" height="13"/>
<rect x="871" y="311" width="5" height="5"/>
<rect x="881" y="279" width="1" height="46"/>
<rect x="879" y="283" width="5" height="33"/><rect x="880" y="284" width="3" height="31" fill="#fff"/>
<rect x="889" y="258" width="1" height="36"/>
<rect x="887" y="282" width="5" height="5"/>
<rect x="897" y="261" width="1" height="59"/>
<rect x="895" y="285" width="5" height="33"/>
<rect x="905" y="280" width="1" height="41"/>
<rect x="903" y="280" width="5" height="37"/><rect x="904" y="281" width="3" height="35" fill="#fff"/>
<rect x="913" y="271" width="1" height="41"/>
<rect x="911" y="281" width="5" height="5"/>
<rect x="921" y="286" width="1" height="26"/>
<rect x="919" y="286" width="5" height="22"/>
<rect x="929" y="304" width="1" height="27"/>
<rect x="927" y="308" width="5" height="1"/>
<rect x="937" y="305" width="1" height="67"/>
<rect x="935" y="308" width="5" height="63"/>
<rect x="945" y="355" width="1" height="38"/>
<rect x="943" y="367" width="5" height="4"/><rect x="944" y="368" width="3" height="2" fill="#fff"/>
<rect x="953" y="346" width="1" height="25"/>
<rect x="951" y="351" width="5" height="16"/><rect x="952" y="352" width="3" height="14" fill="#fff"/>
<rect x="961" y="344" width="1" height="7"/>
<rect x="959" y="346" width="5" height="3"/><rect x="960" y="347" width="3" height="1" fill="#fff"/>
<rect x="969" y="346" width="1" height="8"/>
<rect x="967" y="346" width="5" height="5"/>
<rect x="977" y="337" width="1" height="17"/>
<rect x="975" y="342" width="5" height="7"/><rect x="976" y="343" width="3" height="5" fill="#fff"/>
<rect x="985" y="292" width="1" height="53"/>
<rect x="983" y="299" width="5" height="45"/><rect x="984" y="300" width="3" height="43" fill="#fff"/>
<rect x="993" y="294" width="1" height="44"/>
<rect x="991" y="299" width="5" height="27"/>
<rect x="1001" y="303" width="1" height="37"/>
<rect x="999" y="306" width="5" height="19"/><rect x="1000" y="307" width="3" height="17" fill="#fff"/>
<rect x="1009" y="307" width="1" height="18"/>
<rect x="1007" y="307" width="5" height="13"/>
<rect x="1017" y="304" width="1" height="21"/>
<rect x="1015" y="308" width="5" height="10"/><rect x="1016" y="309" width="3" height="8" fill="#fff"/>
<rect x="1025" y="289" width="1" height="30"/>
<rect x="1023" y="292" width="5" height="16"/><rect x="1024" y="293" width="3" height="14" fill="#fff"/>
<rect x="1033" y="242" width="1" height="63"/>
<rect x="1031" y="251" width="5" height="42"/><rect x="1032" y="252" width="3" height="40" fill="#fff"/>
<rect x="1041" y="245" width="1" height="64"/>
<rect x="1039" y="251" width="5" height="56"/>
<rect x="1049" y="285" width="1" height="29"/>
<rect x="1047" y="300" width="5" height="7"/><rect x="1048" y="301" width="3" height="5" fill="#fff"/>
<rect x="1057" y="285" width="1" height="24"/>
<rect x="1055" y="286" width="5" height="14"/><rect x="1056" y="287" width="3" height="12" fill="#fff"/>
<rect x="1065" y="267" width="1" height="21"/>
<rect x="1063" y="270" width="5" height="17"/><rect x="1064" y="271" width="3" height="15" fill="#fff"/>
<rect x="1073" y="264" width="1" height="26"/>
<rect x="1071" y="271" width="5" height="1"/>
<rect x="1081" y="270" width="1" height="37"/>
<rect x="1079" y="271" width="5" height="19"/>
<rect x="1089" y="268" width="1" height="59"/>
<rect x="1087" y="288" width="5" height="9"/>
<rect x="1097" y="270" width="1" height="50"/>
<rect x="1095" y="296" width="5" height="16"/>
<rect x="1105" y="301" width="1" height="25"/>
<rect x="1103" y="311" width="5" height="3"/><rect x="1104" y="312" width="3" height="1" fill="#fff"/>
<rect x="1113" y="311" width="1" height="11"/>
<rect x="1111" y="311" width="5" height="3"/>
<rect x="1121" y="272" width="1" height="45"/>
<rect x="1119" y="289" width="5" height="25"/><rect x="1120" y="290" width="3" height="23" fill="#fff"/>
<rect x="1129" y="240" width="1" height="59"/>
<rect x="1127" y="257" width="5" height="33"/><rect x="1128" y="258" width="3" height="31" fill="#fff"/>
<rect x="1137" y="253" width="1" height="58"/>
<rect x="1135" y="261" width="5" height="42"/>
<rect x="1145" y="252" width="1" height="52"/>
<rect x="1143" y="271" width="5" height="32"/><rect x="1144" y="272" width="3" height="30" fill="#fff"/>
<rect x="1153" y="269" width="1" height="19"/>
<rect x="1151" y="271" width="5" height="3"/>
<rect x="1161" y="270" width="1" height="17"/>
<rect x="1159" y="274" width="5" height="12"/>
<rect x="1169" y="261" width="1" height="35"/>
<rect x="1167" y="267" width="5" height="19"/><rect x="1168" y="268" width="3" height="17" fill="#fff"/>
<rect x="1177" y="248" width="1" height="45"/>
<rect x="1175" y="267" width="5" height="5"/>
<rect x="1185" y="253" width="1" height="53"/>
<rect x="1183" y="267" width="5" height="8"/><rect x="1184" y="268" width="3" height="6" fill="#fff"/>
<rect x="1193" y="254" width="1" height="63"/>
<rect x="1191" y="267" width="5" height="36"/>
<rect x="1201" y="288" width="1" height="11"/>
<rect x="1199" y="290" width="5" height="8"/><rect x="1200" y="291" width="3" height="6" fill="#fff"/>
<rect x="1209" y="263" width="1" height="29"/>
<rect x="1207" y="274" width="5" height="17"/><rect x="1208" y="275" width="3" height="15" fill="#fff"/>
<rect x="1217" y="262" width="1" height="18"/>
<rect x="1215" y="273" width="5" height="1"/>
<rect x="1225" y="264" width="1" height="40"/>
<rect x="1223" y="273" width="5" height="19"/>
<rect x="1233" y="217" width="1" height="84"/>
<rect x="1231" y="231" width="5" height="60"/><rect x="1232" y="232" width="3" height="58" fill="#fff"/>
<rect x="1241" y="213" width="1" height="49"/>
<rect x="1239" y="231" width="5" height="24"/>
<rect x="1249" y="228" width="1" height="42"/>
<rect x="1247" y="253" width="5" height="4"/>
<rect x="1257" y="251" width="1" height="28"/>
<rect x="1255" y="258" width="5" height="15"/><rect x="1256" y="259" width="3" height="13" fill="#fff"/>
<rect x="1265" y="230" width="1" height="29"/>
<rect x="1263" y="241" width="5" height="18"/><rect x="1264" y="242" width="3" height="16" fill="#fff"/>
<rect x="1273" y="234" width="1" height="19"/>
<rect x="1271" y="241" width="5" height="1"/>
<rect x="1281" y="240" width="1" height="24"/>
<rect x="1279" y="241" width="5" height="16"/>
<rect x="1289" y="248" width="1" height="25"/>
<rect x="1287" y="256" width="5" height="17"/>
<rect x="1297" y="264" width="1" height="41"/>
<rect x="1295" y="267" width="5" height="22"/>
<rect x="1305" y="289" width="1" height="18"/>
<rect x="1303" y="291" width="5" height="1"/>
<rect x="1313" y="278" width="1" height="16"/>
<rect x="1311" y="284" width="5" height="9"/><rect x="1312" y="285" width="3" height="7" fill="#fff"/>
<rect x="1321" y="277" width="1" height="13"/>
<rect x="1319" y="285" width="5" height="1"/>
<rect x="1329" y="277" width="1" height="43"/>
<rect x="1327" y="285" width="5" height="22"/>
<rect x="1337" y="269" width="1" height="46"/>
<rect x="1335" y="300" width="5" height="7"/><rect x="1336" y="301" width="3" height="5" fill="#fff"/>
<rect x="1345" y="282" width="1" height="30"/>
<rect x="1343" y="293" width="5" height="9"/><rect x="1344" y="294" width="3" height="7" fill="#fff"/>
<rect x="1353" y="284" width="1" height="20"/>
<rect x="1351" y="294" width="5" height="1"/>
</g>
<rect x="1166" y="270" width="160" height="7" fill="#00ff00" shape-rendering="crispEdges"/>
<path d="M1358.5 30 L1368.5 30 L1363.5 35 Z" fill="#c0c0c0"/>
<path d="M4 40 L8 35.5 L12 40 Z" fill="#000"/>
<text x="16.2" y="40.5" font-size="10" fill="#000" stroke="#000" stroke-width="0.22" textLength="56.8" lengthAdjust="spacingAndGlyphs">GBPUSD-,H4</text>
<text x="79.6" y="40.5" font-size="10" fill="#000" stroke="#000" stroke-width="0.22" textLength="140" lengthAdjust="spacingAndGlyphs">1.26450 1.26559 1.26328 1.26437</text>
<g font-size="9.8" fill="#000" stroke="#000" stroke-width="0.22">
<rect x="1588" y="50" width="2" height="1" fill="#000" shape-rendering="crispEdges"/>
<text x="1593.5" y="54" textLength="32" lengthAdjust="spacingAndGlyphs">1.29270</text>
<rect x="1588" y="83" width="2" height="1" fill="#000" shape-rendering="crispEdges"/>
<text x="1593.5" y="87" textLength="32" lengthAdjust="spacingAndGlyphs">1.28890</text>
<rect x="1588" y="116" width="2" height="1" fill="#000" shape-rendering="crispEdges"/>
<text x="1593.5" y="120" textLength="32" lengthAdjust="spacingAndGlyphs">1.28510</text>
<rect x="1588" y="149" width="2" height="1" fill="#000" shape-rendering="crispEdges"/>
<text x="1593.5" y="153" textLength="32" lengthAdjust="spacingAndGlyphs">1.28120</text>
<rect x="1588" y="183" width="2" height="1" fill="#000" shape-rendering="crispEdges"/>
<text x="1593.5" y="187" textLength="32" lengthAdjust="spacingAndGlyphs">1.27740</text>
<rect x="1588" y="215" width="2" height="1" fill="#000" shape-rendering="crispEdges"/>
<text x="1593.5" y="219" textLength="32" lengthAdjust="spacingAndGlyphs">1.27350</text>
<rect x="1588" y="282" width="2" height="1" fill="#000" shape-rendering="crispEdges"/>
<text x="1593.5" y="286" textLength="32" lengthAdjust="spacingAndGlyphs">1.26590</text>
<rect x="1588" y="314" width="2" height="1" fill="#000" shape-rendering="crispEdges"/>
<text x="1593.5" y="318" textLength="32" lengthAdjust="spacingAndGlyphs">1.26200</text>
<rect x="1588" y="348" width="2" height="1" fill="#000" shape-rendering="crispEdges"/>
<text x="1593.5" y="352" textLength="32" lengthAdjust="spacingAndGlyphs">1.25820</text>
<rect x="1588" y="381" width="2" height="1" fill="#000" shape-rendering="crispEdges"/>
<text x="1593.5" y="385" textLength="32" lengthAdjust="spacingAndGlyphs">1.25440</text>
<rect x="1588" y="414" width="2" height="1" fill="#000" shape-rendering="crispEdges"/>
<text x="1593.5" y="418" textLength="32" lengthAdjust="spacingAndGlyphs">1.25050</text>
<rect x="1588" y="446" width="2" height="1" fill="#000" shape-rendering="crispEdges"/>
<text x="1593.5" y="450" textLength="32" lengthAdjust="spacingAndGlyphs">1.24670</text>
</g>
<rect x="1589" y="222" width="39" height="11" fill="#ff4500" shape-rendering="crispEdges"/>
<text x="1593.5" y="232" font-size="9.8" fill="#fff" stroke="#fff" stroke-width="0.22" textLength="32" lengthAdjust="spacingAndGlyphs">1.27203</text>
<rect x="1589" y="242" width="39" height="11" fill="#ff4500" shape-rendering="crispEdges"/>
<text x="1593.5" y="252" font-size="9.8" fill="#fff" stroke="#fff" stroke-width="0.22" textLength="32" lengthAdjust="spacingAndGlyphs">1.26971</text>
<rect x="1589" y="268" width="39" height="11" fill="#32cd32" shape-rendering="crispEdges"/>
<text x="1593.5" y="278" font-size="9.8" fill="#fff" stroke="#fff" stroke-width="0.22" textLength="32" lengthAdjust="spacingAndGlyphs">1.26670</text>
<rect x="1589" y="288" width="39" height="11" fill="#000" shape-rendering="crispEdges"/>
<text x="1593.5" y="298" font-size="9.8" fill="#fff" stroke="#fff" stroke-width="0.22" textLength="32" lengthAdjust="spacingAndGlyphs">1.26437</text>
<rect x="1589" y="306" width="39" height="11" fill="#0000ff" shape-rendering="crispEdges"/>
<text x="1593.5" y="316" font-size="9.8" fill="#fff" stroke="#fff" stroke-width="0.22" textLength="32" lengthAdjust="spacingAndGlyphs">1.26229</text>
<rect x="1589" y="323" width="39" height="11" fill="#0000ff" shape-rendering="crispEdges"/>
<text x="1593.5" y="333" font-size="9.8" fill="#fff" stroke="#fff" stroke-width="0.22" textLength="32" lengthAdjust="spacingAndGlyphs">1.26032</text>
<text x="5" y="464" font-size="9.8" fill="#000" stroke="#000" stroke-width="0.22" textLength="151" lengthAdjust="spacingAndGlyphs">MACD(12,26,9) -0.000425 0.000251</text>
<g shape-rendering="crispEdges" fill="#c0c0c0">
<rect x="9" y="486" width="1" height="70"/>
<rect x="17" y="486" width="1" height="63"/>
<rect x="25" y="486" width="1" height="64"/>
<rect x="33" y="486" width="1" height="55"/>
<rect x="41" y="486" width="1" height="50"/>
<rect x="49" y="486" width="1" height="45"/>
<rect x="57" y="486" width="1" height="40"/>
<rect x="65" y="486" width="1" height="35"/>
<rect x="73" y="486" width="1" height="33"/>
<rect x="81" y="486" width="1" height="33"/>
<rect x="89" y="486" width="1" height="40"/>
<rect x="97" y="486" width="1" height="43"/>
<rect x="105" y="486" width="1" height="47"/>
<rect x="113" y="486" width="1" height="47"/>
<rect x="121" y="486" width="1" height="45"/>
<rect x="129" y="486" width="1" height="46"/>
<rect x="137" y="486" width="1" height="48"/>
<rect x="145" y="486" width="1" height="48"/>
<rect x="153" y="486" width="1" height="46"/>
<rect x="161" y="486" width="1" height="46"/>
<rect x="169" y="486" width="1" height="30"/>
<rect x="177" y="486" width="1" height="18"/>
<rect x="185" y="486" width="1" height="10"/>
<rect x="201" y="483" width="1" height="4"/>
<rect x="209" y="480" width="1" height="7"/>
<rect x="217" y="483" width="1" height="4"/>
<rect x="225" y="486" width="1" height="1"/>
<rect x="233" y="486" width="1" height="4"/>
<rect x="241" y="486" width="1" height="8"/>
<rect x="249" y="486" width="1" height="10"/>
<rect x="257" y="486" width="1" height="10"/>
<rect x="265" y="486" width="1" height="4"/>
<rect x="273" y="486" width="1" height="4"/>
<rect x="281" y="486" width="1" height="7"/>
<rect x="289" y="486" width="1" height="9"/>
<rect x="297" y="486" width="1" height="10"/>
<rect x="305" y="486" width="1" height="18"/>
<rect x="313" y="486" width="1" height="25"/>
<rect x="321" y="486" width="1" height="33"/>
<rect x="329" y="486" width="1" height="38"/>
<rect x="337" y="486" width="1" height="42"/>
<rect x="345" y="486" width="1" height="44"/>
<rect x="353" y="486" width="1" height="44"/>
<rect x="361" y="486" width="1" height="36"/>
<rect x="369" y="486" width="1" height="30"/>
<rect x="377" y="486" width="1" height="24"/>
<rect x="385" y="486" width="1" height="17"/>
<rect x="393" y="486" width="1" height="9"/>
<rect x="401" y="486" width="1" height="3"/>
<rect x="409" y="486" width="1" height="7"/>
<rect x="417" y="486" width="1" height="9"/>
<rect x="425" y="486" width="1" height="10"/>
<rect x="433" y="486" width="1" height="10"/>
<rect x="441" y="486" width="1" height="10"/>
<rect x="449" y="486" width="1" height="11"/>
<rect x="457" y="486" width="1" height="14"/>
<rect x="465" y="486" width="1" height="16"/>
<rect x="473" y="486" width="1" height="20"/>
<rect x="481" y="486" width="1" height="22"/>
<rect x="489" y="486" width="1" height="18"/>
<rect x="497" y="486" width="1" height="11"/>
<rect x="505" y="486" width="1" height="18"/>
<rect x="513" y="486" width="1" height="21"/>
<rect x="521" y="486" width="1" height="25"/>
<rect x="529" y="486" width="1" height="27"/>
<rect x="537" y="486" width="1" height="28"/>
<rect x="545" y="486" width="1" height="27"/>
<rect x="553" y="486" width="1" height="17"/>
<rect x="561" y="486" width="1" height="20"/>
<rect x="569" y="486" width="1" height="23"/>
<rect x="577" y="486" width="1" height="25"/>
<rect x="585" y="486" width="1" height="28"/>
<rect x="593" y="486" width="1" height="32"/>
<rect x="601" y="486" width="1" height="23"/>
<rect x="609" y="486" width="1" height="22"/>
<rect x="617" y="486" width="1" height="21"/>
<rect x="625" y="486" width="1" height="21"/>
<rect x="633" y="486" width="1" height="22"/>
<rect x="641" y="486" width="1" height="24"/>
<rect x="649" y="486" width="1" height="18"/>
<rect x="657" y="486" width="1" height="10"/>
<rect x="665" y="486" width="1" height="4"/>
<rect x="681" y="484" width="1" height="3"/>
<rect x="689" y="483" width="1" height="4"/>
<rect x="697" y="481" width="1" height="6"/>
<rect x="705" y="481" width="1" height="6"/>
<rect x="713" y="483" width="1" height="4"/>
<rect x="729" y="486" width="1" height="1"/>
<rect x="737" y="486" width="1" height="4"/>
<rect x="745" y="486" width="1" height="17"/>
<rect x="753" y="486" width="1" height="43"/>
<rect x="761" y="486" width="1" height="60"/>
<rect x="769" y="486" width="1" height="72"/>
<rect x="777" y="486" width="1" height="79"/>
<rect x="785" y="486" width="1" height="84"/>
<rect x="793" y="486" width="1" height="82"/>
<rect x="801" y="486" width="1" height="90"/>
<rect x="809" y="486" width="1" height="95"/>
<rect x="817" y="486" width="1" height="104"/>
<rect x="825" y="486" width="1" height="106"/>
<rect x="833" y="486" width="1" height="108"/>
<rect x="841" y="486" width="1" height="103"/>
<rect x="849" y="486" width="1" height="81"/>
<rect x="857" y="486" width="1" height="67"/>
<rect x="865" y="486" width="1" height="55"/>
<rect x="873" y="486" width="1" height="48"/>
<rect x="881" y="486" width="1" height="36"/>
<rect x="889" y="486" width="1" height="25"/>
<rect x="897" y="486" width="1" height="24"/>
<rect x="905" y="486" width="1" height="14"/>
<rect x="913" y="486" width="1" height="10"/>
<rect x="921" y="486" width="1" height="8"/>
<rect x="929" y="486" width="1" height="6"/>
<rect x="937" y="486" width="1" height="16"/>
<rect x="945" y="486" width="1" height="22"/>
<rect x="953" y="486" width="1" height="24"/>
<rect x="961" y="486" width="1" height="25"/>
<rect x="969" y="486" width="1" height="27"/>
<rect x="977" y="486" width="1" height="25"/>
<rect x="985" y="486" width="1" height="18"/>
<rect x="993" y="486" width="1" height="16"/>
<rect x="1001" y="486" width="1" height="11"/>
<rect x="1009" y="486" width="1" height="8"/>
<rect x="1017" y="486" width="1" height="5"/>
<rect x="1033" y="476" width="1" height="11"/>
<rect x="1041" y="477" width="1" height="10"/>
<rect x="1049" y="476" width="1" height="11"/>
<rect x="1057" y="474" width="1" height="13"/>
<rect x="1065" y="469" width="1" height="18"/>
<rect x="1073" y="466" width="1" height="21"/>
<rect x="1081" y="467" width="1" height="20"/>
<rect x="1089" y="469" width="1" height="18"/>
<rect x="1097" y="473" width="1" height="14"/>
<rect x="1105" y="477" width="1" height="10"/>
<rect x="1113" y="480" width="1" height="7"/>
<rect x="1121" y="478" width="1" height="9"/>
<rect x="1129" y="473" width="1" height="14"/>
<rect x="1137" y="475" width="1" height="12"/>
<rect x="1145" y="472" width="1" height="15"/>
<rect x="1153" y="471" width="1" height="16"/>
<rect x="1161" y="472" width="1" height="15"/>
<rect x="1169" y="469" width="1" height="18"/>
<rect x="1177" y="468" width="1" height="19"/>
<rect x="1185" y="467" width="1" height="20"/>
<rect x="1193" y="472" width="1" height="15"/>
<rect x="1201" y="474" width="1" height="13"/>
<rect x="1209" y="473" width="1" height="14"/>
<rect x="1217" y="473" width="1" height="14"/>
<rect x="1225" y="475" width="1" height="12"/>
<rect x="1233" y="468" width="1" height="19"/>
<rect x="1241" y="466" width="1" height="21"/>
<rect x="1249" y="465" width="1" height="22"/>
<rect x="1257" y="465" width="1" height="22"/>
<rect x="1265" y="462" width="1" height="25"/>
<rect x="1273" y="460" width="1" height="27"/>
<rect x="1281" y="462" width="1" height="25"/>
<rect x="1289" y="464" width="1" height="23"/>
<rect x="1297" y="471" width="1" height="16"/>
<rect x="1305" y="476" width="1" height="11"/>
<rect x="1313" y="480" width="1" height="7"/>
<rect x="1321" y="482" width="1" height="5"/>
<rect x="1337" y="486" width="1" height="4"/>
<rect x="1345" y="486" width="1" height="6"/>
<rect x="1353" y="486" width="1" height="7"/>
</g>
<polyline points="0,560.6 12,563.5 25,561.8 37,556.9 49,550.7 61,542.9 74,536 86,530.6 98,528.6 111,526.9 123,527.4 135,528.6 147,529.9 160,533 172,530.6 184,525 197,515.1 209,506.5 221,499.1 233,491.8 246,489.8 258,489.3 270,489.8 283,492.3 295,494.2 307,496.7 319,500.4 332,505.3 344,510.9 356,516.3 369,521.3 381,521.7 393,517.6 402,514.4 425,502.8 442,496.7 457,495.5 474,497.9 486,501.1 506,502.1 523,504.5 543,508.2 567,509 587,511.4 621,510.2 648,510.2 670,502.8 695,494.2 712,488.1 729,484.4 739,484.4 754,491.8 769,506.5 783,525 800,544.6 815,561.8 825,571.6 839,581 849,581.4 864,577.3 879,566.7 893,550.7 908,531.1 923,516.3 938,507 952,503.6 967,504.1 982,506 997,507.7 1011,505.3 1021,502.8 1036,495.5 1056,486.9 1070,479.5 1085,474.1 1100,471.6 1119,472.1 1144,473.3 1169,473.3 1183,471.6 1200,470.1 1220,470.1 1227,471.6 1249,469.2 1274,466 1288,464.7 1303,464.7 1320,467.7 1338,474.6 1352,481.4" fill="none" stroke="#ff0000" stroke-width="1" stroke-dasharray="3,3" shape-rendering="crispEdges"/>
<g font-size="9.8" fill="#000" stroke="#000" stroke-width="0.22">
<rect x="1588" y="458" width="2" height="1" fill="#000" shape-rendering="crispEdges"/>
<rect x="1588" y="486" width="2" height="1" fill="#000" shape-rendering="crispEdges"/>
<rect x="1588" y="601" width="2" height="1" fill="#000" shape-rendering="crispEdges"/>
<text x="1591" y="462" textLength="38" lengthAdjust="spacingAndGlyphs">0.001915</text>
<text x="1591" y="490" textLength="19" lengthAdjust="spacingAndGlyphs">0.00</text>
<text x="1591" y="599" textLength="40" lengthAdjust="spacingAndGlyphs">-0.006659</text>
</g>
<text x="5" y="617" font-size="9.8" fill="#000" stroke="#000" stroke-width="0.22" textLength="67" lengthAdjust="spacingAndGlyphs">RSI(14) 46.1364</text>
<g shape-rendering="crispEdges">
<line x1="2" y1="635.5" x2="1587" y2="635.5" stroke="#c0c0c0" stroke-width="1" stroke-dasharray="3,3"/>
<line x1="2" y1="679.5" x2="1587" y2="679.5" stroke="#c0c0c0" stroke-width="1" stroke-dasharray="3,3"/>
<line x1="2" y1="731.5" x2="1587" y2="731.5" stroke="#c0c0c0" stroke-width="1" stroke-dasharray="3,3"/>
</g>
<polyline points="1.5,691.4 9.5,690.4 17.5,685.5 25.5,693.9 33.5,682.3 41.5,684.8 49.5,683.5 57.5,683.5 65.5,682.3 73.5,686 81.5,692.1 89.5,698.3 97.5,697 105.5,698.3 113.5,694.6 121.5,690.4 129.5,696.3 137.5,696.3 145.5,697.5 153.5,696.3 161.5,693.9 169.5,664.4 177.5,669.3 185.5,668.3 193.5,668.3 201.5,666.8 209.5,671.3 217.5,683.5 225.5,690.4 233.5,688.5 241.5,687.2 249.5,687.2 257.5,684 265.5,672.5 273.5,681.6 281.5,686 289.5,685.3 297.5,685.3 305.5,699.5 313.5,702 321.5,703.7 329.5,705.2 337.5,701.2 345.5,700.7 353.5,698.8 361.5,678.6 369.5,690.9 377.5,670 385.5,672.5 393.5,670.8 401.5,670.8 409.5,687.2 417.5,685.5 425.5,683.5 433.5,683.5 441.5,683.5 449.5,685.5 457.5,691.4 465.5,689.7 473.5,694.1 481.5,690.4 489.5,683.5 497.5,670.8 505.5,693.4 513.5,688.9 521.5,691.4 529.5,692.1 537.5,688 545.5,688 553.5,669.3 561.5,688 569.5,690.4 577.5,689.2 585.5,692.1 593.5,692.1 601.5,675.7 609.5,683.5 617.5,683.5 625.5,684.8 633.5,686 641.5,690.4 649.5,679.9 657.5,671.3 665.5,673.2 673.5,672.5 681.5,674.4 689.5,676.2 697.5,675.7 705.5,678.1 713.5,681.1 721.5,690.4 729.5,679.9 737.5,687.2 745.5,701.2 753.5,716 761.5,710.6 769.5,710.1 777.5,706.1 785.5,706.1 793.5,697.8 801.5,706.9 809.5,707.6 817.5,712.3 825.5,707.6 833.5,708.1 841.5,695.8 849.5,673.2 857.5,678.1 865.5,679.9 873.5,681.1 881.5,674.2 889.5,674.2 897.5,682.3 905.5,674.2 913.5,675.7 921.5,679.9 929.5,680.6 937.5,693.4 945.5,692.1 953.5,688.5 961.5,687.2 969.5,688.5 977.5,685.5 985.5,674.2 993.5,681.1 1001.5,676.2 1009.5,679.9 1017.5,675.7 1025.5,671.7 1033.5,663.4 1041.5,678.6 1049.5,677.4 1057.5,673.7 1065.5,670.5 1073.5,670.5 1081.5,675.7 1089.5,678.6 1097.5,682.3 1105.5,682.3 1113.5,683.5 1121.5,674.2 1129.5,665.8 1137.5,680.6 1145.5,672.5 1153.5,673.2 1161.5,676.7 1169.5,672.5 1177.5,673.2 1185.5,672.5 1193.5,683.5 1201.5,679.1 1209.5,673.2 1217.5,675.7 1225.5,679.9 1233.5,664.4 1241.5,671.3 1249.5,672.5 1257.5,673.2 1265.5,668.8 1273.5,668.8 1281.5,673.7 1289.5,678.1 1297.5,684.8 1305.5,686.5 1313.5,683.5 1321.5,683.5 1329.5,691.4 1337.5,688.5 1345.5,685.5 1353.5,685.5" fill="none" stroke="#1e90ff" stroke-width="1" shape-rendering="crispEdges"/>
<g font-size="9.8" fill="#000" stroke="#000" stroke-width="0.22">
<text x="1590.7" y="615">100</text>
<text x="1590.7" y="639">80</text>
<text x="1590.7" y="683">50</text>
<text x="1590.7" y="735">15</text>
<text x="1590.7" y="751">0</text>
</g>
<g font-size="9.8" fill="#000" stroke="#000" stroke-width="0.22">
<rect x="1" y="755" width="1" height="3" fill="#000" shape-rendering="crispEdges"/>
<text x="0.19999999999999996" y="767" textLength="51.6" lengthAdjust="spacingAndGlyphs">18 Nov 2018</text>
<rect x="65" y="755" width="1" height="3" fill="#000" shape-rendering="crispEdges"/>
<text x="64.2" y="767" textLength="55.9" lengthAdjust="spacingAndGlyphs">20 Nov 04:00</text>
<rect x="129" y="755" width="1" height="3" fill="#000" shape-rendering="crispEdges"/>
<text x="128.2" y="767" textLength="55.9" lengthAdjust="spacingAndGlyphs">21 Nov 12:00</text>
<rect x="193" y="755" width="1" height="3" fill="#000" shape-rendering="crispEdges"/>
<text x="192.2" y="767" textLength="55.9" lengthAdjust="spacingAndGlyphs">22 Nov 20:00</text>
<rect x="257" y="755" width="1" height="3" fill="#000" shape-rendering="crispEdges"/>
<text x="256.2" y="767" textLength="55.9" lengthAdjust="spacingAndGlyphs">26 Nov 04:00</text>
<rect x="321" y="755" width="1" height="3" fill="#000" shape-rendering="crispEdges"/>
<text x="320.2" y="767" textLength="55.9" lengthAdjust="spacingAndGlyphs">27 Nov 12:00</text>
<rect x="385" y="755" width="1" height="3" fill="#000" shape-rendering="crispEdges"/>
<text x="384.2" y="767" textLength="55.9" lengthAdjust="spacingAndGlyphs">28 Nov 20:00</text>
<rect x="449" y="755" width="1" height="3" fill="#000" shape-rendering="crispEdges"/>
<text x="448.2" y="767" textLength="55.9" lengthAdjust="spacingAndGlyphs">30 Nov 04:00</text>
<rect x="513" y="755" width="1" height="3" fill="#000" shape-rendering="crispEdges"/>
<text x="512.2" y="767" textLength="49.1" lengthAdjust="spacingAndGlyphs">3 Dec 12:00</text>
<rect x="577" y="755" width="1" height="3" fill="#000" shape-rendering="crispEdges"/>
<text x="576.2" y="767" textLength="49.1" lengthAdjust="spacingAndGlyphs">4 Dec 20:00</text>
<rect x="641" y="755" width="1" height="3" fill="#000" shape-rendering="crispEdges"/>
<text x="640.2" y="767" textLength="49.1" lengthAdjust="spacingAndGlyphs">6 Dec 04:00</text>
<rect x="705" y="755" width="1" height="3" fill="#000" shape-rendering="crispEdges"/>
<text x="704.2" y="767" textLength="49.1" lengthAdjust="spacingAndGlyphs">7 Dec 12:00</text>
<rect x="769" y="755" width="1" height="3" fill="#000" shape-rendering="crispEdges"/>
<text x="768.2" y="767" textLength="54.1" lengthAdjust="spacingAndGlyphs">10 Dec 20:00</text>
<rect x="833" y="755" width="1" height="3" fill="#000" shape-rendering="crispEdges"/>
<text x="832.2" y="767" textLength="54.1" lengthAdjust="spacingAndGlyphs">12 Dec 04:00</text>
<rect x="897" y="755" width="1" height="3" fill="#000" shape-rendering="crispEdges"/>
<text x="896.2" y="767" textLength="54.1" lengthAdjust="spacingAndGlyphs">13 Dec 12:00</text>
<rect x="961" y="755" width="1" height="3" fill="#000" shape-rendering="crispEdges"/>
<text x="960.2" y="767" textLength="54.1" lengthAdjust="spacingAndGlyphs">16 Dec 23:00</text>
<rect x="1025" y="755" width="1" height="3" fill="#000" shape-rendering="crispEdges"/>
<text x="1024.2" y="767" textLength="54.1" lengthAdjust="spacingAndGlyphs">18 Dec 04:00</text>
<rect x="1089" y="755" width="1" height="3" fill="#000" shape-rendering="crispEdges"/>
<text x="1088.2" y="767" textLength="54.1" lengthAdjust="spacingAndGlyphs">19 Dec 12:00</text>
<rect x="1153" y="755" width="1" height="3" fill="#000" shape-rendering="crispEdges"/>
<text x="1152.2" y="767" textLength="54.1" lengthAdjust="spacingAndGlyphs">20 Dec 20:00</text>
<rect x="1217" y="755" width="1" height="3" fill="#000" shape-rendering="crispEdges"/>
<text x="1216.2" y="767" textLength="54.1" lengthAdjust="spacingAndGlyphs">24 Dec 04:00</text>
<rect x="1281" y="755" width="1" height="3" fill="#000" shape-rendering="crispEdges"/>
<text x="1280.2" y="767" textLength="54.1" lengthAdjust="spacingAndGlyphs">26 Dec 08:00</text>
<rect x="1345" y="755" width="1" height="3" fill="#000" shape-rendering="crispEdges"/>
<text x="1344.2" y="767" textLength="54.1" lengthAdjust="spacingAndGlyphs">27 Dec 16:00</text>
</g>
<g id="panel"><defs>
<linearGradient id="gbtn" x1="0" y1="0" x2="0" y2="1"><stop offset="0" stop-color="#fb5656"/><stop offset="1" stop-color="#e2343a"/></linearGradient>
<linearGradient id="gprice" x1="0" y1="0" x2="0" y2="1"><stop offset="0" stop-color="#df3030"/><stop offset="1" stop-color="#ad0000"/></linearGradient>
</defs>
<rect x="1" y="45" width="223" height="70" fill="#fff" shape-rendering="crispEdges"/>
<g shape-rendering="crispEdges">
<!-- sell side -->
<rect x="4" y="49" width="52" height="25" fill="#c40a0a"/>
<rect x="5" y="50" width="50" height="24" fill="url(#gbtn)"/>
<rect x="4" y="73" width="109" height="40" fill="#c40a0a"/>
<rect x="5" y="74" width="107" height="38" fill="url(#gprice)"/>
<rect x="5" y="73" width="50" height="1" fill="#e23a3a"/>
<rect x="8" y="72" width="44" height="1" fill="#8a0000"/>
<rect x="8" y="73" width="44" height="1" fill="#f07070"/>
<!-- buy side -->
<rect x="171" y="49" width="52" height="25" fill="#c40a0a"/>
<rect x="172" y="50" width="50" height="24" fill="url(#gbtn)"/>
<rect x="115" y="73" width="108" height="40" fill="#c40a0a"/>
<rect x="116" y="74" width="106" height="38" fill="url(#gprice)"/>
<rect x="172" y="73" width="50" height="1" fill="#e23a3a"/>
<rect x="175" y="72" width="44" height="1" fill="#8a0000"/>
<rect x="175" y="73" width="44" height="1" fill="#f07070"/>
<!-- lot box -->
<rect x="58" y="49" width="111" height="22" fill="#a9adb3"/>
<rect x="59" y="50" width="20" height="20" fill="#e6e6e6"/>
<rect x="80" y="50" width="67" height="20" fill="#fff"/>
<rect x="148" y="50" width="20" height="20" fill="#e6e6e6"/>
</g>
<path d="M66 58 L71.5 58 L68.75 61 Z" fill="#000"/>
<path d="M154.5 61 L160.5 61 L157.5 58 Z" fill="#000"/>
<text x="143.5" y="64" font-size="12" fill="#000" text-anchor="end" textLength="23.5" lengthAdjust="spacingAndGlyphs">0.10</text>
<text x="16.3" y="65" font-size="12" fill="#fff" textLength="25.7" lengthAdjust="spacingAndGlyphs">SELL</text>
<text x="184.7" y="65" font-size="12" fill="#fff" textLength="23.4" lengthAdjust="spacingAndGlyphs">BUY</text>
<text x="24.5" y="104" font-size="12.5" font-weight="bold" fill="#fff" textLength="23.4" lengthAdjust="spacingAndGlyphs">1.26</text>
<text x="50.5" y="104" font-size="33" fill="#fff" textLength="35" lengthAdjust="spacingAndGlyphs">43</text>
<text x="91" y="88" font-size="12.5" fill="#fff">7</text>
<text x="135" y="104" font-size="12.5" font-weight="bold" fill="#fff" textLength="23.4" lengthAdjust="spacingAndGlyphs">1.26</text>
<text x="161.8" y="104" font-size="33" fill="#fff" textLength="35.5" lengthAdjust="spacingAndGlyphs">46</text>
<text x="202" y="88" font-size="12.5" fill="#fff">4</text>
</g>
</svg></body></html>
